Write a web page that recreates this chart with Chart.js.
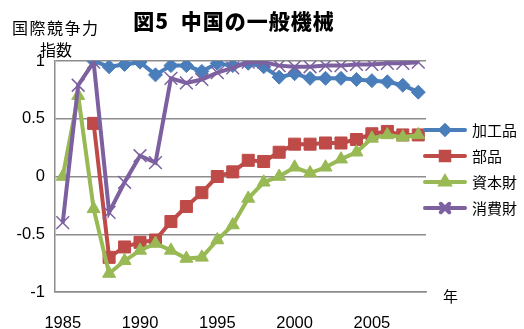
<!DOCTYPE html>
<html>
<head>
<meta charset="utf-8">
<script src="https://cdn.jsdelivr.net/npm/chart.js@4/dist/chart.umd.min.js"></script>
<style>
  html, body { margin: 0; padding: 0; background: #fff; }
  #wrap { width: 524px; height: 329px; }
</style>
</head>
<body>
<div id="wrap"><canvas id="c" width="524" height="329"></canvas></div>
<script>
// Years on the category axis
const years = [1985, 1986, 1987, 1988, 1989, 1990, 1991, 1992, 1993, 1994, 1995, 1996,
               1997, 1998, 1999, 2000, 2001, 2002, 2003, 2004, 2005, 2006, 2007, 2008];

// International competitiveness index by goods type
const processed = [null, null, 1.00, 0.95, 0.97, 0.99, 0.88, 0.96, 0.96, 0.91, 0.98, 0.96,
                   0.98, 0.95, 0.86, 0.89, 0.85, 0.85, 0.85, 0.84, 0.83, 0.82, 0.79, 0.73];
const parts     = [null, null, 0.46, -0.70, -0.61, -0.57, -0.55, -0.39, -0.26, -0.14, 0.00, 0.04,
                   0.14, 0.13, 0.21, 0.28, 0.28, 0.29, 0.29, 0.32, 0.37, 0.39, 0.36, 0.36];
const capital   = [0.00, 0.70, -0.28, -0.84, -0.73, -0.64, -0.58, -0.64, -0.71, -0.70, -0.55, -0.42,
                   -0.19, -0.05, 0.00, 0.08, 0.03, 0.08, 0.15, 0.21, 0.33, 0.36, 0.34, 0.36];
const consumer  = [-0.40, 0.79, 0.99, -0.31, -0.05, 0.18, 0.12, 0.85, 0.81, 0.84, 0.90, 0.94,
                   0.99, 0.99, 0.96, 0.95, 0.95, 0.96, 0.96, 0.97, 0.97, 0.98, 0.98, 0.99];

const seriesNames = ['加工品', '部品', '資本財', '消費財'];
const yTicks = [-1, -0.5, 0, 0.5, 1];

const titleText = '図5  中国の一般機械';
const yTitle1 = '国際競争力';
const yTitle2 = '指数';
const xTitle = '年';

const JP = '"Noto Sans CJK JP", "Noto Sans", sans-serif';
const NUM = '"Liberation Sans", Arial, sans-serif';

const styles = [
  { color: '#4A7EBB', pointStyle: 'rectRot', radius: 7, lw: 1, legendRadius: 4.5 },
  { color: '#BE4B48', pointStyle: 'rect', radius: 8.5, lw: 1, legendRadius: 6 },
  { color: '#98B954', pointStyle: 'triangle', radius: 7.5, lw: 1, legendRadius: 5 },
  { color: '#7D60A0', pointStyle: 'crossRot', radius: 9, lw: 1.5, legendRadius: 6 }
];
const seriesData = [processed, parts, capital, consumer];

const datasets = seriesData.map((d, i) => ({
  label: seriesNames[i],
  data: d,
  borderColor: styles[i].color,
  backgroundColor: styles[i].color,
  borderWidth: 4,
  pointStyle: styles[i].pointStyle,
  pointRadius: styles[i].radius,
  pointBorderWidth: styles[i].lw,
  pointBorderColor: styles[i].color,
  pointBackgroundColor: styles[i].color,
  tension: 0,
  spanGaps: false,
  order: 4 - i
}));

// Texts outside the plot: title, axis titles and the right-hand legend
const decorations = {
  id: 'decorations',
  afterDraw(chart) {
    const ctx = chart.ctx;
    const area = chart.chartArea;
    ctx.save();
    ctx.fillStyle = '#000';
    ctx.textBaseline = 'middle';

    ctx.font = '900 21px ' + JP;
    ctx.textAlign = 'center';
    try { ctx.letterSpacing = '1px'; } catch (e) {}
    ctx.fillText(titleText, 234, 21);

    ctx.font = '16px ' + JP;
    ctx.textAlign = 'left';
    try { ctx.letterSpacing = '1.5px'; } catch (e) {}
    ctx.fillText(yTitle1, 12, 28);
    try { ctx.letterSpacing = '0px'; } catch (e) {}
    ctx.fillText(yTitle2, 40, 50);

    ctx.font = '15px ' + JP;
    ctx.fillText(xTitle, area.right + 17, 296);

    // legend
    const lx0 = area.right - 1, lx1 = area.right + 39;
    const rows = [130, 156, 182, 208];
    ctx.font = '15px ' + JP;
    datasets.forEach((ds, i) => {
      const y = rows[i];
      ctx.strokeStyle = ds.borderColor;
      ctx.lineWidth = 4;
      ctx.lineCap = 'round';
      ctx.beginPath();
      ctx.moveTo(lx0, y);
      ctx.lineTo(lx1, y);
      ctx.stroke();
      ctx.fillStyle = ds.borderColor;
      Chart.helpers.drawPoint(ctx, {
        pointStyle: ds.pointStyle,
        radius: styles[i].legendRadius,
        rotation: 0,
        borderWidth: ds.pointBorderWidth
      }, (lx0 + lx1) / 2, y);
      ctx.fillStyle = '#000';
      ctx.fillText(ds.label, area.right + 46, y);
    });
    ctx.restore();
  }
};

new Chart(document.getElementById('c'), {
  type: 'line',
  data: { labels: years.map(String), datasets },
  options: {
    responsive: false,
    animation: false,
    devicePixelRatio: 1,
    layout: { padding: { top: 61, right: 98, bottom: 0, left: 0 } },
    plugins: {
      legend: { display: false },
      title: { display: false },
      tooltip: { enabled: false }
    },
    scales: {
      x: {
        type: 'category',
        offset: true,
        grid: { display: false, drawTicks: false },
        border: { display: true, color: '#8C8C8C', width: 1.5 },
        ticks: {
          autoSkip: false,
          maxRotation: 0,
          padding: 22,
          color: '#000',
          font: { family: NUM, size: 16.5 },
          callback: (v, i) => (years[i] % 5 === 0 ? String(years[i]) : '')
        },
        afterFit: (s) => { s.height = 37; }
      },
      y: {
        min: -1,
        max: 1,
        afterBuildTicks: (s) => { s.ticks = yTicks.map(v => ({ value: v })); },
        grid: { color: '#8C8C8C', lineWidth: 1.5, drawTicks: false },
        border: { display: true, color: '#8C8C8C', width: 1.5 },
        ticks: {
          padding: 10,
          color: '#000',
          font: { family: NUM, size: 16.5 },
          callback: (v) => String(v)
        },
        afterFit: (s) => { s.width = 55; }
      }
    }
  },
  plugins: [decorations]
});
</script>
</body>
</html>
